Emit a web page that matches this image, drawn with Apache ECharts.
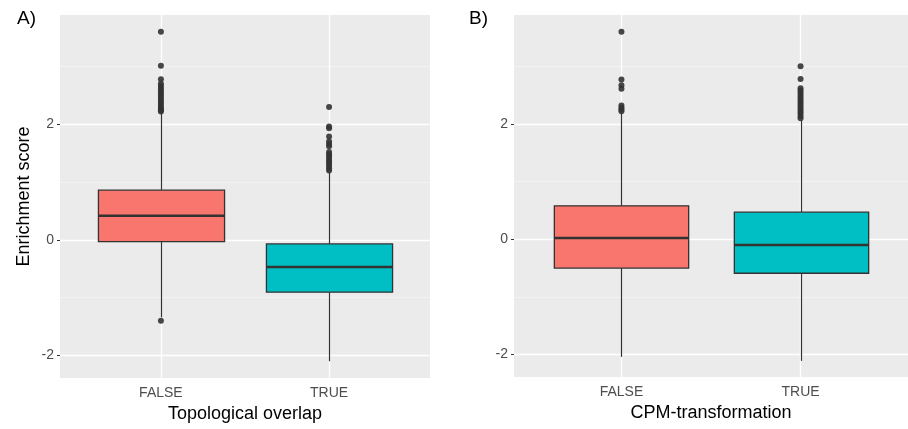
<!DOCTYPE html>
<html>
<head>
<meta charset="utf-8">
<script src="https://cdn.jsdelivr.net/npm/echarts@6/dist/echarts.min.js"></script>
<style>
  html, body { margin: 0; padding: 0; background: #ffffff; }
  #chart { width: 908px; height: 429px; }
</style>
</head>
<body>
<div id="chart"></div>
<script>
// Group labels on the x axis of both panels
const categories = ['FALSE', 'TRUE'];

// Box statistics per group: [lower whisker, Q1, median, Q3, upper whisker]
const overlapStats = [
  [-1.34, -0.03, 0.415, 0.86, 2.20],
  [-2.10, -0.905, -0.47, -0.07, 1.17]
];
const cpmStats = [
  [-2.04, -0.50, 0.02, 0.58, 2.19],
  [-2.11, -0.59, -0.10, 0.47, 2.07]
];

// Outlying points per group
const overlapOutliersFalse = [3.60, 3.01, 2.78, 2.70, 2.66, 2.62, 2.58, 2.54, 2.50, 2.46, 2.42, 2.38, 2.34, 2.30, 2.27, 2.24, 2.22, -1.40];
const overlapOutliersTrue = [2.30, 1.96, 1.93, 1.79, 1.70, 1.66, 1.62, 1.52, 1.48, 1.44, 1.40, 1.36, 1.32, 1.28, 1.24, 1.20];
const cpmOutliersFalse = [3.60, 2.77, 2.67, 2.61, 2.32, 2.28, 2.25, 2.22];
const cpmOutliersTrue = [3.00, 2.78, 2.62, 2.58, 2.54, 2.50, 2.46, 2.42, 2.38, 2.34, 2.30, 2.26, 2.22, 2.18, 2.14, 2.10];

// Axis ticks
const yTicks = [-2, 0, 2];
const yMinorTicks = [-1, 1, 3];
const xTicks = [1, 2];

const fills = ['#F8766D', '#00BFC4'];
const FONT = 'Liberation Sans, Arial, sans-serif';
const BOX_WIDTH = 0.75;

function boxRender(params, api) {
  const x = api.value(0);
  const pLo = api.coord([x, api.value(1)]);
  const pQ1 = api.coord([x, api.value(2)]);
  const pMed = api.coord([x, api.value(3)]);
  const pQ3 = api.coord([x, api.value(4)]);
  const pHi = api.coord([x, api.value(5)]);
  const half = api.size([BOX_WIDTH, 0])[0] / 2;
  const cx = Math.round(pMed[0]) + 0.5;
  const line = { stroke: '#333333', lineWidth: 1.2 };
  return {
    type: 'group',
    children: [
      { type: 'line', shape: { x1: cx, y1: pLo[1], x2: cx, y2: pQ1[1] }, style: line },
      { type: 'line', shape: { x1: cx, y1: pQ3[1], x2: cx, y2: pHi[1] }, style: line },
      {
        type: 'rect',
        shape: { x: cx - half, y: pQ3[1], width: half * 2, height: pQ1[1] - pQ3[1] },
        style: { fill: api.visual('color'), stroke: '#333333', lineWidth: 1.3 }
      },
      { type: 'line', shape: { x1: cx - half, y1: pMed[1], x2: cx + half, y2: pMed[1] },
        style: { stroke: '#333333', lineWidth: 2.5 } }
    ]
  };
}

function boxData(stats) {
  return stats.map((s, i) => ({
    value: [i + 1].concat(s),
    itemStyle: { color: fills[i] }
  }));
}

function outlierData(list, i) {
  return list.map(v => [i + 1, v]);
}

function gridLines() {
  const major = { color: '#ffffff', width: 1.3, type: 'solid' };
  const minor = { color: '#F7F7F7', width: 0.7, type: 'solid' };
  return yMinorTicks.map(v => ({ yAxis: v, lineStyle: minor }))
    .concat(yTicks.map(v => ({ yAxis: v, lineStyle: major })))
    .concat(xTicks.map(v => ({ xAxis: v, lineStyle: major })));
}

function xAxis(gridIndex, name) {
  return {
    type: 'value', gridIndex, min: 0.4, max: 2.6,
    name, nameLocation: 'middle', nameGap: 27,
    nameTextStyle: { fontFamily: FONT, fontSize: 18, color: '#000000' },
    axisLine: { show: false },
    splitLine: { show: false },
    axisTick: { show: true, customValues: xTicks, length: 3, lineStyle: { color: '#333333', width: 1 } },
    axisLabel: {
      customValues: xTicks, margin: 8,
      formatter: v => categories[Math.round(v) - 1],
      fontFamily: FONT, fontSize: 14, color: '#4D4D4D'
    }
  };
}

function yAxis(gridIndex, name) {
  return {
    type: 'value', gridIndex, min: -2.39, max: 3.89,
    name, nameLocation: 'middle', nameGap: 27,
    nameTextStyle: { fontFamily: FONT, fontSize: 18, color: '#000000' },
    axisLine: { show: false },
    splitLine: { show: false },
    axisTick: { show: true, customValues: yTicks, length: 3, lineStyle: { color: '#333333', width: 1 } },
    axisLabel: {
      customValues: yTicks, margin: 6,
      fontFamily: FONT, fontSize: 14, color: '#4D4D4D'
    }
  };
}

function panelSeries(idx, stats, outFalse, outTrue) {
  return [
    {
      type: 'line', xAxisIndex: idx, yAxisIndex: idx, data: [], z: 0, silent: true,
      markLine: { silent: true, z: 1, symbol: 'none', label: { show: false }, emphasis: { disabled: true }, data: gridLines() }
    },
    {
      type: 'custom', xAxisIndex: idx, yAxisIndex: idx, z: 10,
      renderItem: boxRender, data: boxData(stats),
      encode: { x: 0, y: [1, 2, 3, 4, 5] }
    },
    {
      type: 'scatter', xAxisIndex: idx, yAxisIndex: idx, z: 11,
      symbol: 'circle', symbolSize: 6,
      itemStyle: { color: '#333333', opacity: 0.9 },
      data: outlierData(outFalse, 0).concat(outlierData(outTrue, 1))
    }
  ];
}

const chart = echarts.init(document.getElementById('chart'), null, { renderer: 'canvas' });
chart.setOption({
  animation: false,
  backgroundColor: '#ffffff',
  title: [
    { text: 'A)', left: 12, top: 4, textStyle: { fontFamily: FONT, fontSize: 19, fontWeight: 'normal', color: '#000000' } },
    { text: 'B)', left: 464, top: 4, textStyle: { fontFamily: FONT, fontSize: 19, fontWeight: 'normal', color: '#000000' } }
  ],
  grid: [
    { left: 60, top: 15, width: 370, height: 363, show: true, backgroundColor: '#EBEBEB', borderWidth: 0 },
    { left: 514, top: 15, width: 403, height: 362, show: true, backgroundColor: '#EBEBEB', borderWidth: 0 }
  ],
  xAxis: [xAxis(0, 'Topological overlap'), xAxis(1, 'CPM-transformation')],
  yAxis: [yAxis(0, 'Enrichment score'), yAxis(1, '')],
  series: panelSeries(0, overlapStats, overlapOutliersFalse, overlapOutliersTrue)
    .concat(panelSeries(1, cpmStats, cpmOutliersFalse, cpmOutliersTrue))
});
</script>
</body>
</html>
